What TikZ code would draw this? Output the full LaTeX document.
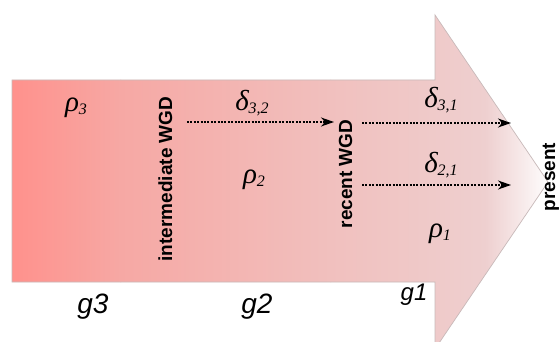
\documentclass[tikz,border=0pt]{standalone}
\usepackage{fontspec}
\setmainfont{Liberation Serif}
\setsansfont{Liberation Sans}
\usetikzlibrary{arrows.meta}
\definecolor{cA}{RGB}{255,145,140}
\definecolor{cB}{RGB}{246,168,164}
\definecolor{cC}{RGB}{241,192,190}
\definecolor{cD}{RGB}{238,207,207}
\definecolor{cE}{RGB}{254,254,254}
\definecolor{edge}{RGB}{200,185,185}
\newcommand{\grk}[2]{{\fontsize{29}{29}\selectfont\itshape #1\raisebox{-0.1em}{\fontsize{16}{16}\selectfont #2}}}
\tikzset{
  wgd/.style={font=\sffamily\bfseries\fontsize{19}{19}\selectfont, rotate=90, anchor=base, inner sep=0pt},
  glabel/.style={font=\sffamily\itshape\fontsize{28}{28}\selectfont, inner sep=0pt},
  greek/.style={inner sep=0pt},
  flow/.style={line width=1.2pt, dash pattern=on 2pt off 1.4pt, -{Stealth[length=13pt,width=9pt,inset=4pt]}},
}
\begin{document}
\begin{tikzpicture}[x=1pt,y=-1pt]
\useasboundingbox (0,0) rectangle (560,342);
\fill[white] (0,0) rectangle (560,342);
\begin{scope}
  \clip (12,80) -- (435,80) -- (435,15) -- (548,182) -- (435,349) -- (435,282) -- (12,282) -- cycle;
  \shade[left color=cA, right color=cB] (11,10) rectangle (121,350);
  \shade[left color=cB, right color=cC] (120,10) rectangle (331,350);
  \shade[left color=cC, right color=cD] (330,10) rectangle (486,350);
  \shade[left color=cD, right color=cE] (485,10) rectangle (550,350);
\end{scope}
\draw[edge, line width=0.7pt, line join=miter] (12,80) -- (435,80) -- (435,15) -- (548,182) -- (435,349) -- (435,282) -- (12,282) -- cycle;

\node[greek] (r3) at (76,108) {\grk{ρ}{3}};
\node[wgd] (iw) at (172,179) {intermediate WGD};
\node[greek] (d32) at (252,103) {\grk{δ}{3,2}};
\node[greek] (r2) at (254,180) {\grk{ρ}{2}};
\node[wgd] (rw) at (352,174) {recent WGD};
\node[greek] (d31) at (441,100) {\grk{δ}{3,1}};
\node[greek] (d21) at (441,165) {\grk{δ}{2,1}};
\node[greek] (r1) at (440,234) {\grk{ρ}{1}};
\node[wgd] (pr) at (555,177) {present};

\coordinate (a1s) at (187,122);
\coordinate (a1e) at (334,122);
\coordinate (a2s) at (362,123);
\coordinate (a2e) at (511,123);
\coordinate (a3s) at (362,185);
\coordinate (a3e) at (511,185);
\draw[flow] (a1s) -- (a1e);
\draw[flow] (a2s) -- (a2e);
\draw[flow] (a3s) -- (a3e);

\node[glabel] (g3) at (93,307) {g3};
\node[glabel] (g2) at (257,307) {g2};
\node[glabel, font=\sffamily\itshape\fontsize{24}{24}\selectfont] (g1) at (414,295) {g1};
\end{tikzpicture}
\end{document}
